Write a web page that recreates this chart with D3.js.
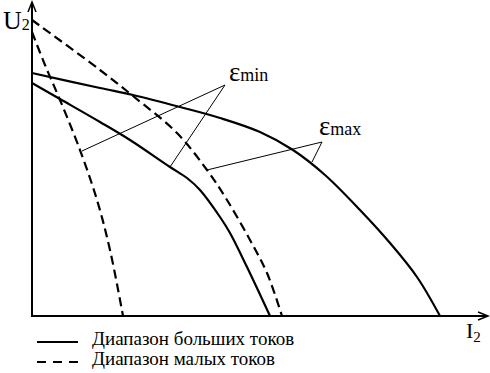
<!DOCTYPE html>
<html><head><meta charset="utf-8">
<script src="https://cdn.jsdelivr.net/npm/d3@7"></script>
<style>
body{margin:0;background:#fff}
svg{display:block}
</style>
</head><body>
<svg id="c" width="490" height="373"></svg>
<script>
// Series (I2 in arbitrary units, U2 in arbitrary units)
const bigMaxI   = [0, 17, 25.25, 37, 47, 57, 65.25, 73.25, 82, 89.5, 96.25, 102];
const bigMaxU   = [81, 76, 73.67, 69.67, 66, 61.33, 55.33, 47, 35.33, 24.33, 13, 0];
const bigMinI   = [0, 7, 17, 24.5, 34.5, 38.75, 42, 47, 49.5, 53.75, 59.5];
const bigMinU   = [77.67, 72.33, 64.67, 58.67, 49.67, 46, 42, 33, 27.67, 16.33, 0];
const smallMinI = [0, 3.25, 7, 12, 16.25, 19.5, 22.75];
const smallMinU = [94.67, 83.67, 72, 55.33, 38.67, 22, 0];
const smallMaxI = [0, 17, 25.25, 36.25, 43.75, 48.75, 54.5, 58.75, 62.5];
const smallMaxU = [98.67, 82, 73.33, 61, 48.67, 38.67, 25.33, 14.33, 0];
// Annotation leaders (apex, end1, end2) in data units
const epsMinLeaderI = [48.25, 12.5, 34.5];
const epsMinLeaderU = [77, 55, 49.67];
const epsMaxLeaderI = [72.5, 43.75, 70];
const epsMaxLeaderU = [58, 48.67, 51.33];
const legendLabels = ["Диапазон больших токов", "Диапазон малых токов"];
const axisLabels = ["U", "I"];

const FONT = "'Liberation Serif', 'DejaVu Serif', serif";
const svg = d3.select("#c");
const x = d3.scaleLinear().domain([0, 112]).range([32, 480]);
const y = d3.scaleLinear().domain([0, 100]).range([316, 16]);

const line = d3.line().x(d => x(d[0])).y(d => y(d[1])).curve(d3.curveCatmullRom.alpha(0.5));
const zip = (a, b) => a.map((v, i) => [v, b[i]]);

// axes
const g = svg.append("g").attr("stroke", "#000").attr("fill", "none");
g.append("line").attr("x1", x(0)).attr("y1", y(0)).attr("x2", x(0)).attr("y2", 3).attr("stroke-width", 2);
g.append("line").attr("x1", x(0) - 1).attr("y1", y(0)).attr("x2", 486).attr("y2", y(0)).attr("stroke-width", 2);
g.append("path").attr("d", `M${x(0)-4},12L${x(0)},2L${x(0)+4},12`).attr("stroke-width", 1.5);
g.append("path").attr("d", `M478,${y(0)-4}L488,${y(0)}L478,${y(0)+4}`).attr("stroke-width", 1.5);

// curves
const series = [
  {d: zip(bigMaxI, bigMaxU), dash: null},
  {d: zip(bigMinI, bigMinU), dash: null},
  {d: zip(smallMinI, smallMinU), dash: "9,5"},
  {d: zip(smallMaxI, smallMaxU), dash: "9,5"}
];
svg.append("g").selectAll("path").data(series).join("path")
  .attr("d", s => line(s.d))
  .attr("fill", "none").attr("stroke", "#000").attr("stroke-width", 2.2)
  .attr("stroke-dasharray", s => s.dash);

// leaders
function leaders(I, U) {
  const gg = svg.append("g").attr("stroke", "#000").attr("stroke-width", 1);
  [1, 2].forEach(k => gg.append("line")
    .attr("x1", x(I[0])).attr("y1", y(U[0]))
    .attr("x2", x(I[k])).attr("y2", y(U[k])));
}
leaders(epsMinLeaderI, epsMinLeaderU);
leaders(epsMaxLeaderI, epsMaxLeaderU);

// eps labels
function epsLabel(px, py, sub) {
  const t = svg.append("text").attr("x", px).attr("y", py).attr("font-family", FONT);
  t.append("tspan").attr("font-size", 27).text("ε");
  t.append("tspan").attr("font-size", 18).text(sub);
}
epsLabel(x(epsMinLeaderI[0]) + 4, y(epsMinLeaderU[0]) - 4, "min");
epsLabel(x(epsMaxLeaderI[0]) - 3, y(epsMaxLeaderU[0]) - 7, "max");

// axis labels
const u = svg.append("text").attr("x", 3).attr("y", 29).attr("font-family", FONT);
u.append("tspan").attr("font-size", 26).text(axisLabels[0]);
u.append("tspan").attr("font-size", 16).attr("dy", 1).text("2");
const ii = svg.append("text").attr("x", 466).attr("y", 338).attr("font-family", FONT);
ii.append("tspan").attr("font-size", 22).text(axisLabels[1]);
ii.append("tspan").attr("font-size", 15).attr("dy", 4).text("2");

// legend
const leg = svg.append("g");
legendLabels.forEach((lab, i) => {
  const yy = 342 + i * 20;
  leg.append("line").attr("x1", 37).attr("x2", 78).attr("y1", yy).attr("y2", yy)
    .attr("stroke", "#000").attr("stroke-width", 2)
    .attr("stroke-dasharray", i === 1 ? "9,7" : null);
  leg.append("text").attr("x", 92).attr("y", yy + 2.5).attr("font-family", FONT)
    .attr("font-size", 19).text(lab);
});
</script>
</body></html>
